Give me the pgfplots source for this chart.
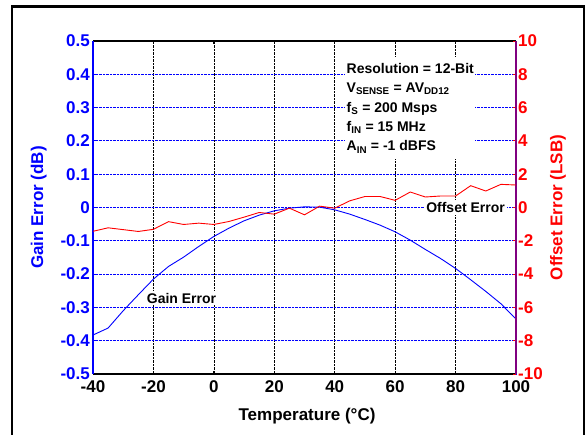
\documentclass[border=0pt]{standalone}
\usepackage{fontspec}
\setmainfont{Liberation Sans}
\usepackage{pgfplots}
\usepackage{pgfplotstable}
\pgfplotsset{compat=1.18}
\definecolor{axpurple}{RGB}{128,0,128}

% gain error (dB) vs temperature (C)
\pgfplotstableread{
T gain
-40 -0.383
-35 -0.362
-30 -0.310
-25 -0.262
-20 -0.215
-15 -0.177
-10 -0.149
-5 -0.117
0 -0.087
5 -0.062
10 -0.040
15 -0.023
20 -0.010
25 -0.002
30 0.002
35 0.001
40 -0.007
45 -0.020
50 -0.036
55 -0.053
60 -0.073
65 -0.098
70 -0.126
75 -0.153
80 -0.183
85 -0.217
90 -0.252
95 -0.289
100 -0.335
}\gaintab

% offset error (LSB) vs temperature (C)
\pgfplotstableread{
T offset
-40 -1.43
-35 -1.22
-30 -1.33
-25 -1.44
-20 -1.31
-15 -0.85
-10 -1.02
-5 -0.94
0 -1.02
5 -0.84
10 -0.58
15 -0.30
20 -0.40
25 -0.04
30 -0.44
35 0.08
40 -0.04
45 0.40
50 0.66
55 0.66
60 0.43
65 0.93
70 0.63
75 0.69
80 0.69
85 1.31
90 0.99
95 1.39
100 1.35
}\offtab

\begin{document}
\begin{tikzpicture}
\useasboundingbox (0,0) rectangle (586pt,435pt);
\fill[white] (0,0) rectangle (586pt,435pt);
\draw[line width=2.5pt] (12pt,-5pt) -- (12pt,428.3pt) -- (583.8pt,428.3pt) -- (583.8pt,-5pt);

\pgfplotsset{
  common/.style={
    scale only axis, width=423pt, height=333pt,
    at={(93pt,61pt)}, anchor=south west,
    xmin=-40, xmax=100,
    /pgf/number format/assume math mode=true,
    tick align=inside, major tick length=3pt,
  },
}

\begin{axis}[common,
  ymin=-0.5, ymax=0.5,
  xtick={-40,-20,...,100},
  ytick={-0.5,-0.4,...,0.51},
  axis x line*=box, axis y line*=left,
  x axis line style={-, black, line width=1.2pt},
  y axis line style={-, blue, line width=1.2pt},
  x tick style={black, line width=0.8pt},
  y tick style={blue, line width=0.8pt},
  grid=major,
  x grid style={black, densely dotted, line width=0.6pt},
  y grid style={blue, densely dotted, line width=0.8pt},
  /pgf/number format/.cd, fixed, precision=1, /pgfplots/.cd,
  xticklabel style={font=\fontsize{17}{20}\selectfont\bfseries, text=black,
    anchor=north, inner sep=0pt, yshift=-6.5pt},
  yticklabel style={font=\fontsize{17}{20}\selectfont\bfseries, text=blue,
    anchor=east, inner sep=0pt, xshift=-3pt},
  xlabel={Temperature (°C)},
  xlabel style={font=\fontsize{17}{20}\selectfont\bfseries, text=black,
    at={(axis description cs:0.506,-0.126)}, anchor=center},
  ylabel={Gain Error (dB)},
  ylabel style={font=\fontsize{17}{20}\selectfont\bfseries, text=blue,
    at={(axis description cs:-0.128,0.5)}, anchor=center, rotate=0},
]
\addplot[blue, line width=0.9pt, no marks] table[x=T, y=gain] {\gaintab};
\node[fill=white, inner sep=2pt, font=\fontsize{14}{17}\selectfont\bfseries]
  at (axis cs:-10.7,-0.272) {Gain Error};
\node[fill=white, inner sep=2pt, font=\fontsize{14}{17}\selectfont\bfseries]
  at (axis cs:83.3,0) {Offset Error};
\node[fill=white, anchor=north west, inner xsep=1.5pt, inner ysep=6pt, align=left,
  font=\fontsize{14}{19.4}\selectfont\bfseries]
  at (axis cs:43.4,0.452)
  {Resolution = 12-Bit\\
   V\textsubscript{SENSE} = AV\textsubscript{DD12}\\
   f\textsubscript{S} = 200 Msps\\
   f\textsubscript{IN} = 15 MHz\\
   A\textsubscript{IN} = -1 dBFS};
\end{axis}

\begin{axis}[common,
  ymin=-10, ymax=10,
  ytick={-10,-8,...,10},
  axis x line=none, axis y line*=right,
  y axis line style={-, axpurple, line width=1.2pt},
  y tick style={red, line width=0.8pt},
  yticklabel style={font=\fontsize{17}{20}\selectfont\bfseries, text=red,
    anchor=west, inner sep=0pt, xshift=2pt},
  ylabel={Offset Error (LSB)},
  ylabel style={font=\fontsize{17}{20}\selectfont\bfseries, text=red,
    at={(axis description cs:1.099,0.5)}, anchor=center, rotate=0},
]
\addplot[red, line width=0.9pt, no marks] table[x=T, y=offset] {\offtab};
\end{axis}
\end{tikzpicture}
\end{document}
